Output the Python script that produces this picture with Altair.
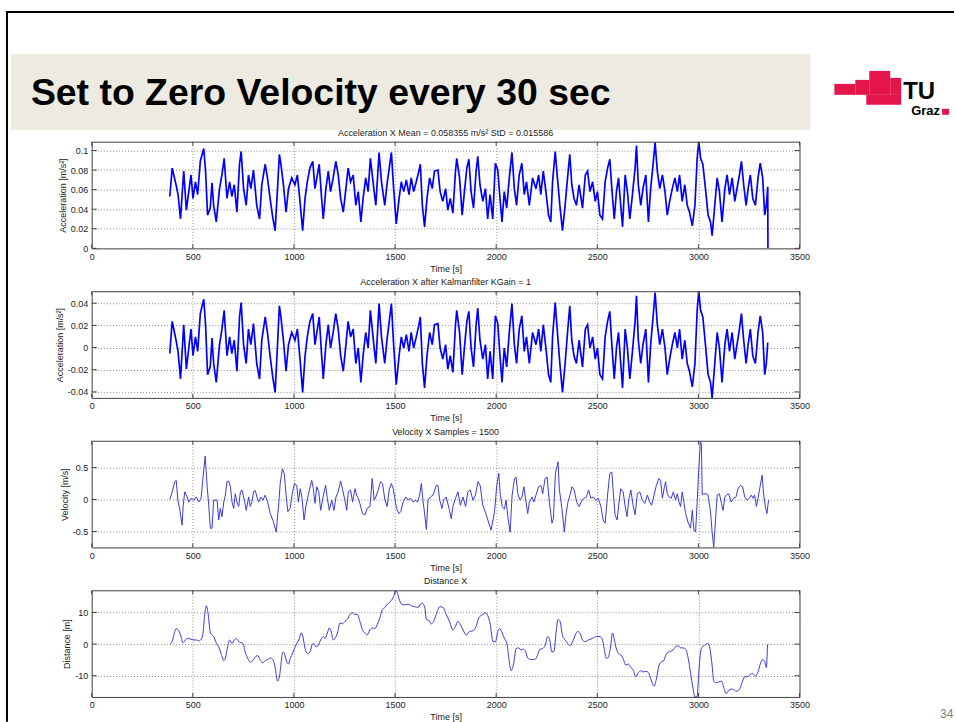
import altair as alt
import pandas as pd

# ---------------- data ----------------
ACC_MEAN = 0.058355

ACC_T = [386,398,417,427,439,455,468,480,491,501,513,524,537,554,563,573,586,595,603,616,
         632,644,655,669,682,693,705,718,731,739,751,764,775,787,800,816,830,841,858,869,
         882,895,907,918,928,935,948,961,973,989,1005,1017,1030,1043,1055,1066,1079,1093,1104,1116,
         1125,1137,1145,1158,1170,1181,1194,1207,1219,1231,1244,1257,1268,1280,1293,1306,1318,1331,1342,1355,
         1367,1378,
         1395,1405,1421,1433,1449,1460,1474,1482,1493,1506,1520,1531,1543,1556,1569,1580,1592,1605,1618,1625,
         1635,1646,1658,1671,1684,1695,1712,1723,1736,1750,1761,1773,1786,1799,1805,1819,1832,1843,1855,1865,
         1876,1888,1901,1909,1920,1934,1947,1958,1970,1983,1996,2008,2019,2029,2040,2052,2065,2078,2090,2101,
         2114,2127,2139,2150,2164,2180,2197,2210,2221,2233,2246,2259,2270,2279,2292,2303,2315,2328,2341,2353,
         2364,2374,2385,2397,2410,
         2427,2441,2452,2464,2477,2490,2501,2513,2526,2539,2551,2562,2572,2584,2595,2605,2616,2625,2638,2649,
         2661,2674,2687,2694,2703,2715,2726,2740,2753,2764,2776,2786,2797,2809,2822,2835,2846,2858,2871,2884,
         2896,2907,2920,2933,2945,2956,2970,2983,2994,3002,3011,3022,3035,3048,3060,3068,3081,3093,3104,3117,
         3131,3142,3154,3167,3180,3191,3203,3213,3224,3236,3246,3257,3269,3282,3295,3306,3318,3328,3336,3343,
         3344]
ACC_V = [0.053,0.082,0.065,0.055,0.030,0.079,0.039,0.058,0.075,0.051,0.068,0.055,0.089,0.102,0.079,0.034,0.041,0.067,0.044,0.027,
         0.061,0.075,0.092,0.051,0.068,0.053,0.065,0.037,0.086,0.099,0.061,0.044,0.075,0.061,0.080,0.044,0.030,0.065,0.086,0.072,
         0.051,0.032,0.018,0.058,0.096,0.087,0.065,0.037,0.061,0.072,0.065,0.075,0.048,0.018,0.051,0.068,0.082,0.089,0.061,0.075,
         0.086,0.051,0.030,0.061,0.079,0.058,0.072,0.089,0.075,0.051,0.037,0.061,0.082,0.068,0.075,0.044,0.058,0.027,0.051,0.072,
         0.058,0.092,
         0.061,0.044,0.098,0.068,0.044,0.065,0.086,0.098,0.061,0.025,0.051,0.068,0.058,0.070,0.055,0.072,0.058,0.068,0.079,0.086,
         0.044,0.022,0.051,0.072,0.061,0.079,0.080,0.058,0.048,0.061,0.039,0.051,0.036,0.079,0.092,0.072,0.034,0.058,0.082,0.091,
         0.058,0.041,0.079,0.094,0.065,0.048,0.061,0.030,0.055,0.030,0.087,0.080,0.051,0.027,0.058,0.041,0.072,0.098,0.061,0.044,
         0.075,0.087,0.055,0.068,0.044,0.072,0.061,0.075,0.055,0.079,0.058,0.034,0.027,0.068,0.099,0.072,0.044,0.018,0.044,0.072,
         0.096,0.065,0.051,0.044,0.065,
         0.041,0.075,0.079,0.058,0.068,0.048,0.058,0.034,0.030,0.068,0.082,0.091,0.061,0.030,0.058,0.072,0.044,0.022,0.075,0.058,
         0.030,0.055,0.082,0.105,0.065,0.044,0.061,0.075,0.027,0.061,0.086,0.108,0.079,0.061,0.075,0.058,0.034,0.048,0.061,0.072,
         0.058,0.075,0.048,0.065,0.044,0.037,0.023,0.044,0.092,0.109,0.092,0.086,0.061,0.034,0.027,0.013,0.044,0.072,0.058,0.027,
         0.061,0.075,0.055,0.072,0.048,0.061,0.075,0.089,0.065,0.044,0.061,0.075,0.051,0.044,0.072,0.087,0.072,0.034,0.044,0.063,
         0.0]

VEL = [(386,0.00),(398,0.12),(411,0.28),(418,0.30),(426,-0.01),(436,-0.17),(447,-0.40),(452,-0.11),(460,0.12),(472,0.04),
       (480,-0.04),(492,0.02),(505,-0.01),(518,0.04),(529,-0.04),(541,0.02),(549,0.30),(561,0.68),(571,0.20),(579,-0.11),
       (587,-0.45),(595,-0.45),(603,-0.01),(620,-0.01),(628,-0.32),(636,-0.14),(644,-0.27),(653,-0.04),(661,0.07),(669,0.28),
       (677,0.29),(686,0.20),(694,-0.04),(702,-0.14),(710,0.09),(718,-0.04),(727,-0.11),(735,0.12),(743,0.15),(755,-0.01),
       (764,-0.17),(776,0.04),(784,-0.11),(792,-0.04),(801,0.13),(809,0.14),(817,0.04),(825,-0.04),(837,0.04),(847,-0.01),
       (858,0.07),(870,-0.04),(883,-0.22),(899,-0.35),(912,-0.51),(924,-0.11),(932,0.25),(943,0.48),(952,0.41),(962,0.04),
       (970,-0.19),(981,-0.14),(993,0.12),(1003,0.25),(1014,0.22),(1022,-0.04),(1031,0.17),(1040,0.02),(1050,-0.32),(1060,-0.09),
       (1072,0.09),(1088,0.30),(1096,0.17),(1104,-0.06),(1113,0.20),(1123,0.12),(1132,-0.17),(1146,0.07),(1157,0.22),(1165,0.02),
       (1175,-0.17),(1187,-0.01),(1198,-0.17),(1208,0.04),(1219,0.12),(1231,0.29),(1241,0.15),(1252,-0.01),(1261,-0.17),(1269,0.12),
       (1280,0.15),(1290,-0.04),(1302,0.17),(1310,0.07),(1318,0.02),(1326,-0.06),(1339,-0.22),(1351,-0.24),(1362,-0.14),(1376,-0.11),
       (1387,0.33),(1397,-0.01),(1405,0.04),(1417,0.15),(1428,0.28),(1438,0.25),(1450,-0.01),(1461,-0.11),(1471,0.15),(1482,0.25),
       (1491,0.17),(1499,0.02),(1507,-0.14),(1519,-0.22),(1528,-0.19),(1540,-0.04),(1553,0.04),(1565,-0.01),(1576,0.02),(1589,-0.04),
       (1601,-0.01),(1611,-0.04),(1622,0.07),(1630,0.25),(1638,-0.01),(1647,-0.24),(1655,-0.47),(1663,-0.01),(1675,0.04),(1688,0.07),
       (1704,0.22),(1712,0.22),(1721,-0.01),(1732,-0.14),(1740,-0.01),(1753,0.04),(1767,-0.14),(1778,-0.30),(1786,-0.11),(1799,0.02),
       (1811,0.12),(1823,-0.09),(1836,0.04),(1849,-0.11),(1860,0.12),(1872,0.15),(1885,-0.01),(1898,0.07),(1910,0.28),(1921,0.22),
       (1934,-0.09),(1951,-0.24),(1975,-0.48),(1992,-0.19),(2003,0.22),(2013,0.41),(2020,0.09),(2030,-0.11),(2041,-0.15),(2049,-0.01),
       (2059,-0.30),(2069,-0.51),(2079,0.07),(2091,0.33),(2099,0.35),(2107,0.09),(2118,-0.01),(2128,0.04),(2137,0.20),(2145,0.02),
       (2156,-0.22),(2164,-0.04),(2178,0.04),(2186,-0.04),(2197,0.07),(2210,0.20),(2222,0.22),(2230,0.09),(2242,0.33),(2252,0.35),
       (2263,-0.04),(2276,-0.37),(2283,-0.30),(2293,0.41),(2306,0.59),(2312,0.17),(2325,-0.14),(2337,-0.51),(2345,-0.24),(2355,-0.04),
       (2365,0.07),(2375,0.20),(2386,0.15),(2398,-0.04),(2411,-0.11),(2424,-0.01),(2436,0.02),(2447,0.04),(2457,0.15),(2468,0.02),
       (2480,0.04),(2493,-0.01),(2505,0.02),(2518,-0.11),(2529,-0.32),(2539,-0.37),(2551,0.07),(2562,0.41),(2572,0.43),(2579,0.12),
       (2588,-0.24),(2598,-0.32),(2608,-0.04),(2616,0.17),(2628,0.12),(2638,-0.11),(2647,-0.27),(2657,0.02),(2666,0.15),(2677,-0.09),
       (2687,-0.24),(2698,0.09),(2710,0.12),(2723,-0.01),(2735,-0.06),(2748,0.07),(2759,-0.04),(2769,-0.09),(2781,0.07),(2792,0.22),
       (2805,0.33),(2813,0.30),(2822,0.02),(2832,0.20),(2838,0.28),(2846,0.09),(2855,0.04),(2866,0.02),(2876,0.12),(2887,-0.01),
       (2896,0.09),(2904,-0.04),(2912,-0.11),(2920,0.12),(2928,-0.04),(2937,-0.22),(2950,-0.37),(2961,-0.45),(2970,-0.17),(2978,-0.48),
       (2986,-0.51),(2994,-0.04),(3002,0.48),(3010,0.92),(3015,0.85),(3019,0.07),(3027,0.09),(3039,0.09),(3048,0.07),(3060,-0.19),
       (3068,-0.51),(3076,-0.75),(3085,-0.30),(3093,0.07),(3104,0.09),(3114,-0.06),(3122,-0.17),(3131,0.04),(3139,0.07),(3150,0.09),
       (3162,-0.04),(3175,0.02),(3186,0.04),(3196,0.17),(3208,0.22),(3219,0.20),(3229,0.04),(3241,-0.01),(3252,0.02),(3262,0.07),
       (3270,0.02),(3278,0.07),(3287,-0.11),(3295,0.02),(3306,0.22),(3315,0.38),(3323,0.07),(3331,-0.11),(3339,-0.22),(3347,-0.01)]

DIST = [(386,0.0),(398,0.8),(406,2.9),(418,4.9),(428,4.5),(439,2.9),(452,0.4),(464,1.3),(472,1.8),(488,1.6),
        (505,1.3),(518,1.3),(529,1.0),(538,1.3),(549,2.9),(559,9.4),(567,12.1),(575,9.9),(587,3.5),(595,2.9),
        (603,2.4),(617,0.2),(628,-0.9),(640,-3.0),(653,-5.2),(661,-4.4),(672,-0.9),(682,1.3),(694,0.2),(705,1.3),
        (715,1.8),(727,0.8),(738,0.5),(748,0.2),(759,-2.5),(771,-4.4),(784,-5.7),(797,-5.2),(809,-4.1),(820,-3.6),
        (833,-4.9),(847,-5.9),(858,-5.2),(870,-4.9),(883,-4.4),(896,-4.9),(907,-7.4),(919,-11.7),(929,-10.1),(935,-6.8),
        (945,-2.5),(953,-3.0),(965,-5.7),(973,-6.3),(981,-4.6),(989,-3.6),(1001,-1.6),(1014,0.2),(1027,1.8),(1035,3.5),
        (1044,2.4),(1055,-1.4),(1067,-3.0),(1080,-2.5),(1088,-0.5),(1096,0.2),(1109,-0.9),(1121,-0.3),(1132,1.3),(1146,2.4),
        (1154,1.8),(1165,3.5),(1175,5.1),(1183,4.2),(1195,1.3),(1203,1.8),(1215,3.5),(1228,6.7),(1239,6.4),(1252,7.2),
        (1264,7.8),(1277,9.4),(1290,9.9),(1302,9.4),(1313,9.4),(1326,7.2),(1339,4.5),(1351,3.5),(1362,2.9),(1376,4.5),
        (1387,5.1),(1400,4.9),(1412,6.2),(1425,8.3),(1438,11.0),(1450,11.6),(1461,12.6),(1474,13.2),(1491,14.8),(1504,16.8),
        (1510,16.4),(1520,14.3),(1532,12.6),(1548,12.4),(1565,12.6),(1581,12.1),(1597,11.8),(1614,11.6),(1625,12.6),(1635,12.9),
        (1647,11.6),(1655,7.8),(1668,7.5),(1680,6.4),(1691,7.2),(1704,9.4),(1721,11.8),(1737,11.6),(1753,9.4),(1770,7.0),
        (1786,4.5),(1799,5.6),(1811,7.2),(1823,6.2),(1836,4.5),(1852,2.9),(1869,4.0),(1885,4.2),(1901,5.6),(1914,8.3),
        (1934,9.4),(1948,9.9),(1959,8.9),(1971,6.2),(1984,0.8),(1997,0.8),(2008,4.0),(2017,4.9),(2030,3.5),(2041,1.8),
        (2053,0.2),(2063,-4.6),(2074,-8.4),(2086,-6.3),(2099,-1.4),(2112,-1.2),(2123,-1.9),(2132,-1.6),(2145,-2.3),(2156,-4.4),
        (2173,-4.9),(2189,-4.9),(2201,-4.1),(2217,-1.6),(2230,-1.4),(2243,-0.3),(2255,2.4),(2263,1.8),(2276,-2.5),(2286,-2.3),
        (2296,3.5),(2306,7.8),(2316,7.2),(2329,2.4),(2342,1.3),(2353,0.2),(2365,-0.5),(2378,0.8),(2391,2.9),(2403,4.0),
        (2414,3.5),(2427,1.3),(2440,0.8),(2457,1.3),(2477,1.8),(2496,2.4),(2513,2.4),(2526,1.3),(2534,-1.4),(2546,-4.6),
        (2555,-4.1),(2567,-0.3),(2575,3.5),(2583,1.8),(2592,-0.9),(2605,-3.0),(2616,-3.4),(2628,-4.6),(2641,-6.6),(2654,-6.3),
        (2666,-7.4),(2677,-8.1),(2690,-10.3),(2703,-9.0),(2715,-8.4),(2726,-8.8),(2740,-8.6),(2753,-9.0),(2764,-10.9),(2781,-13.3),
        (2792,-11.1),(2805,-6.8),(2818,-5.5),(2830,-5.2),(2838,-3.6),(2851,-2.5),(2863,-2.3),(2874,-1.9),(2887,-0.9),(2900,-0.5),
        (2912,-1.2),(2924,-1.2),(2937,-1.6),(2950,-4.6),(2961,-9.0),(2973,-13.8),(2983,-16.7),(2994,-16.5),(3002,-9.0),(3011,-2.5),
        (3019,-0.9),(3032,-0.3),(3048,0.2),(3057,-1.4),(3068,-6.8),(3076,-11.7),(3088,-12.2),(3101,-12.0),(3114,-11.7),(3126,-13.8),
        (3137,-15.7),(3150,-14.6),(3163,-14.2),(3175,-14.4),(3186,-14.9),(3200,-14.6),(3216,-12.2),(3229,-10.3),(3246,-10.3),(3257,-9.5),
        (3269,-9.3),(3282,-10.1),(3295,-8.8),(3306,-6.3),(3318,-4.9),(3328,-5.5),(3336,-7.4),(3342,-0.1)]

X_TICKS = [0, 500, 1000, 1500, 2000, 2500, 3000, 3500]
ACC_TICKS = [0, 0.02, 0.04, 0.06, 0.08, 0.1]
KAL_TICKS = [-0.04, -0.02, 0, 0.02, 0.04]
VEL_TICKS = [-0.5, 0, 0.5]
DIST_TICKS = [-10, 0, 10]

SLIDE_TITLE = "Set to Zero Velocity every 30 sec"
PANEL_TITLES = ["Acceleration X Mean = 0.058355 m/s\u00b2 StD = 0.015586",
                "Acceleration X after Kalmanfilter KGain = 1",
                "Velocity X Samples = 1500",
                "Distance X"]
Y_TITLES = ["Acceleration [m/s\u00b2]", "Acceleration [m/s\u00b2]", "Velocity [m/s]", "Distance [m]"]

# ---------------- styling ----------------
W, H = 710, 107
FONT = "Liberation Sans, Arial, Helvetica, sans-serif"
BOX = "#404040"
TXT = "#222222"
RED = "#E4154B"
LABEL_EXPR = "datum.value < 0 ? '-' + format(-datum.value, '~g') : format(datum.value, '~g')"

one = pd.DataFrame({"k": [0]})


def deco_rect(x, x2, y, y2, color, **kw):
    return alt.Chart(one).mark_rect(fill=color, **kw).encode(
        x=alt.value(x), x2=alt.value(x2), y=alt.value(y), y2=alt.value(y2))


def deco_text(txt, x, y, size, color="black", weight="bold", align="left", baseline="alphabetic"):
    return alt.Chart(one).mark_text(text=txt, align=align, baseline=baseline,
                                    fontSize=size, fontWeight=weight, font=FONT,
                                    color=color).encode(x=alt.value(x), y=alt.value(y))


def panel(df, title, ytitle, ydomain, yticks, color, width, interp="linear", extra=()):
    xs = alt.Scale(domain=[0, 3500], nice=False, zero=False)
    ys = alt.Scale(domain=ydomain, nice=False, zero=False)
    xax = alt.Axis(values=X_TICKS, title="Time [s]", format="d", labelFlush=False)
    yax = alt.Axis(values=yticks, title=ytitle, labelExpr=LABEL_EXPR, labelFlush=False)
    line = alt.Chart(df).mark_line(color=color, strokeWidth=width, clip=True,
                                   interpolate=interp).encode(
        x=alt.X("t:Q", scale=xs, axis=xax),
        y=alt.Y("v:Q", scale=ys, axis=yax))
    xt = pd.DataFrame({"t": X_TICKS})
    yt = pd.DataFrame({"v": yticks})
    tick_top = alt.Chart(xt).mark_rule(color=BOX).encode(
        x=alt.X("t:Q", axis=xax), y=alt.value(0), y2=alt.value(4))
    tick_bot = alt.Chart(xt).mark_rule(color=BOX).encode(
        x=alt.X("t:Q", axis=xax), y=alt.value(H - 4), y2=alt.value(H))
    tick_l = alt.Chart(yt).mark_rule(color=BOX).encode(
        y=alt.Y("v:Q", axis=yax), x=alt.value(0), x2=alt.value(5))
    tick_r = alt.Chart(yt).mark_rule(color=BOX).encode(
        y=alt.Y("v:Q", axis=yax), x=alt.value(W - 5), x2=alt.value(W))
    ttl = deco_text(title, W / 2, -4, 9, color=TXT, weight="normal",
                    align="center", baseline="bottom")
    layers = list(extra) + [line, tick_top, tick_bot, tick_l, tick_r, ttl]
    return alt.layer(*layers).properties(width=W, height=H)


acc_df = pd.DataFrame({"t": ACC_T, "v": ACC_V})
# Kalman panel: same samples (without the final reset point) minus the stated mean
kal_df = pd.DataFrame({"t": ACC_T[:-1], "v": [round(a - ACC_MEAN, 4) for a in ACC_V[:-1]]})
vel_df = pd.DataFrame(VEL, columns=["t", "v"])
dist_df = pd.DataFrame(DIST, columns=["t", "v"])

# slide decorations (pixel offsets relative to the first plot's origin)
decor = [
    deco_rect(-91, 865, -140, 582, "white", fillOpacity=0),
    deco_rect(-81, 721, -88, -12, "#EDEBE1"),
    deco_text(SLIDE_TITLE, -61, -37, 37.5),
    deco_rect(745, 766, -58, -47, RED),
    deco_rect(766, 780, -62, -47, RED),
    deco_rect(780, 801, -71, -47, RED),
    deco_rect(801, 812, -64, -47, RED),
    deco_rect(777, 812, -47, -37, RED),
    deco_text("TU", 814, -43, 24),
    deco_text("Graz", 822, -27, 13),
    deco_rect(853, 860, -33, -27, RED),
    deco_text("34", 851, 578, 12, color="#808080", weight="normal"),
    alt.Chart(one).mark_rule(color="black", strokeWidth=2).encode(
        x=alt.value(-86), x2=alt.value(865), y=alt.value(-130)),
    alt.Chart(one).mark_rule(color="black", strokeWidth=2).encode(
        x=alt.value(-85), y=alt.value(-130), y2=alt.value(582)),
]

p1 = panel(acc_df, PANEL_TITLES[0], Y_TITLES[0], [0, 0.109], ACC_TICKS, "#0000FF", 1.7, extra=decor)
p2 = panel(kal_df, PANEL_TITLES[1], Y_TITLES[1], [-0.0454, 0.0508], KAL_TICKS, "#0000FF", 1.7)
p3 = panel(vel_df, PANEL_TITLES[2], Y_TITLES[2], [-0.75, 0.92], VEL_TICKS, "#3A3AD6", 1.0)
p4 = panel(dist_df, PANEL_TITLES[3], Y_TITLES[3], [-16.7, 17], DIST_TICKS, "#3A3AD6", 1.0,
           interp="monotone")

chart = alt.vconcat(p1, p2, p3, p4, spacing=43, bounds="flush").properties(
    padding=0, autosize=alt.AutoSizeParams(type="pad")
).configure(background="white").configure_view(
    stroke=BOX, strokeWidth=1
).configure_axis(
    grid=True, gridColor="#8c8c8c", gridDash=[1, 2], gridWidth=1,
    ticks=False, domain=False,
    labelFont=FONT, labelFontSize=9, labelColor=TXT, labelPadding=4,
    titleFont=FONT, titleFontSize=9, titleFontWeight="normal", titleColor=TXT, titlePadding=3,
)

chart.save("out.html", embed_options={"renderer": "svg", "actions": False})
